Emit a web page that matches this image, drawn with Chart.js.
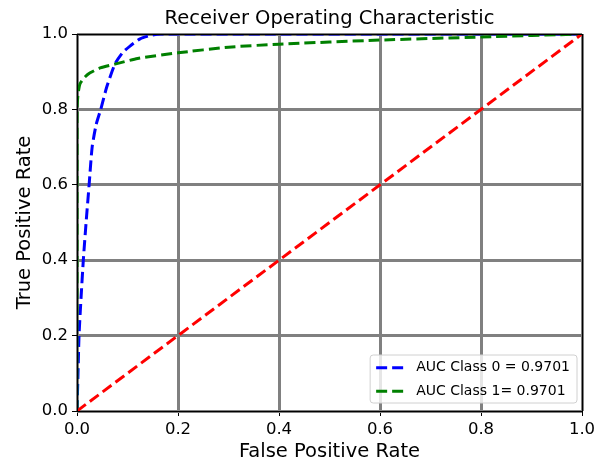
<!DOCTYPE html>
<html>
<head>
<meta charset="utf-8">
<script src="https://cdn.jsdelivr.net/npm/chart.js@4/dist/chart.umd.min.js"></script>
<style>
  html, body { margin: 0; padding: 0; background: #fff; }
  #wrap { width: 608px; height: 464px; }
</style>
</head>
<body>
<div id="wrap"><canvas id="roc" width="608" height="464"></canvas></div>
<script>
// values
const fpr0 = [0, 0.002, 0.004, 0.008, 0.0125, 0.018, 0.024, 0.03, 0.038, 0.047, 0.059, 0.075, 0.09, 0.105, 0.125, 0.145, 0.165, 0.2, 0.4, 0.6, 0.8, 1.0];
const tpr0 = [0, 0.1, 0.2, 0.3, 0.4, 0.5, 0.6, 0.7, 0.76, 0.8, 0.86, 0.92, 0.95, 0.968, 0.987, 0.996, 1.0, 1.0, 1.0, 1.0, 1.0, 1.0];

const fpr1 = [0, 0, 0.002, 0.006, 0.015, 0.026, 0.046, 0.075, 0.12, 0.2, 0.3, 0.4, 0.6, 0.8, 1.0];
const tpr1 = [0, 0.8, 0.84, 0.868, 0.885, 0.897, 0.91, 0.92, 0.935, 0.95, 0.965, 0.973, 0.984, 0.992, 1.0];

const diagX = [0, 1];
const diagY = [0, 1];

const labels = ['AUC Class 0 = 0.9701', 'AUC Class 1= 0.9701'];
const tickValues = [0, 0.2, 0.4, 0.6, 0.8, 1.0];

const FONT = 'DejaVu Sans';
const DASH = [11, 5];

function toPoints(xs, ys) {
  return xs.map((x, i) => ({ x: x, y: ys[i] }));
}

// legend box in the lower right corner of the axes
const cornerLegend = {
  id: 'cornerLegend',
  afterDraw(chart) {
    const ctx = chart.ctx;
    const area = chart.chartArea;
    const items = chart.data.datasets.filter(d => d.label);
    ctx.save();
    ctx.font = '14px ' + FONT;
    const textW = Math.max(...items.map(d => ctx.measureText(d.label).width));
    const rowH = 23.5;
    const w = 46 + textW + 7;
    const h = items.length * rowH + 1;
    const x = area.right - 5 - w;
    const y = area.bottom - 8 - h;
    ctx.beginPath();
    ctx.roundRect(x, y, w, h, 3);
    ctx.fillStyle = 'rgba(255,255,255,0.8)';
    ctx.fill();
    ctx.strokeStyle = '#d0d0d0';
    ctx.lineWidth = 1;
    ctx.stroke();
    items.forEach((d, i) => {
      const cy = y + 1 + rowH / 2 + i * rowH;
      ctx.beginPath();
      ctx.setLineDash(DASH);
      ctx.lineWidth = 3;
      ctx.strokeStyle = d.borderColor;
      ctx.moveTo(x + 6, cy);
      ctx.lineTo(x + 33, cy);
      ctx.stroke();
      ctx.setLineDash([]);
      ctx.fillStyle = '#000';
      ctx.textBaseline = 'middle';
      ctx.fillText(d.label, x + 46, cy);
    });
    ctx.restore();
  }
};

// black spines around the axes
const frame = {
  id: 'frame',
  afterDatasetsDraw(chart) {
    const ctx = chart.ctx;
    const a = chart.chartArea;
    ctx.save();
    ctx.strokeStyle = '#000';
    ctx.lineWidth = 1;
    ctx.strokeRect(a.left + 0.5, a.top + 0.5, a.right - a.left, a.bottom - a.top);
    ctx.restore();
  }
};

function tickConf() {
  return {
    color: '#000',
    font: { family: FONT, size: 16.5 },
    padding: 4,
    autoSkip: false,
    maxRotation: 0,
    callback: v => Number(v).toFixed(1)
  };
}

const gridConf = { color: '#808080', lineWidth: 3, tickColor: '#000', tickLength: 5, tickWidth: 1 };

new Chart(document.getElementById('roc'), {
  type: 'line',
  data: {
    datasets: [
      {
        label: labels[0],
        data: toPoints(fpr0, tpr0),
        borderColor: '#0000ff',
        borderWidth: 3,
        borderDash: DASH,
        pointRadius: 0,
        tension: 0.2,
        fill: false,
        order: 3
      },
      {
        label: labels[1],
        data: toPoints(fpr1, tpr1),
        borderColor: '#008000',
        borderWidth: 3,
        borderDash: DASH,
        pointRadius: 0,
        tension: 0.2,
        fill: false,
        order: 2
      },
      {
        label: '',
        data: toPoints(diagX, diagY),
        borderColor: '#ff0000',
        borderWidth: 3,
        borderDash: DASH,
        pointRadius: 0,
        fill: false,
        order: 1
      }
    ]
  },
  options: {
    responsive: false,
    animation: false,
    layout: { padding: { top: 0, right: 26, bottom: 0, left: 0 } },
    plugins: {
      legend: { display: false },
      tooltip: { enabled: false },
      title: {
        display: true,
        fullSize: false,
        text: 'Receiver Operating Characteristic',
        color: '#000',
        font: { family: FONT, size: 19.5, weight: 'normal' },
        padding: { top: 7, bottom: 3.6 }
      }
    },
    scales: {
      x: {
        type: 'linear',
        min: 0,
        max: 1,
        afterBuildTicks: s => { s.ticks = tickValues.map(v => ({ value: v })); },
        afterFit: s => { s.height = 53; },
        ticks: tickConf(),
        grid: gridConf,
        border: { display: false },
        title: {
          display: true,
          text: 'False Positive Rate',
          color: '#000',
          font: { family: FONT, size: 19.5 },
          padding: { top: 0, bottom: 0 }
        }
      },
      y: {
        type: 'linear',
        min: 0,
        max: 1,
        afterBuildTicks: s => { s.ticks = tickValues.map(v => ({ value: v })); },
        afterFit: s => { s.width = 77; },
        ticks: tickConf(),
        grid: gridConf,
        border: { display: false },
        title: {
          display: true,
          text: 'True Positive Rate',
          color: '#000',
          font: { family: FONT, size: 19.5 },
          padding: { top: 13, bottom: 0 }
        }
      }
    }
  },
  plugins: [frame, cornerLegend]
});
</script>
</body>
</html>
